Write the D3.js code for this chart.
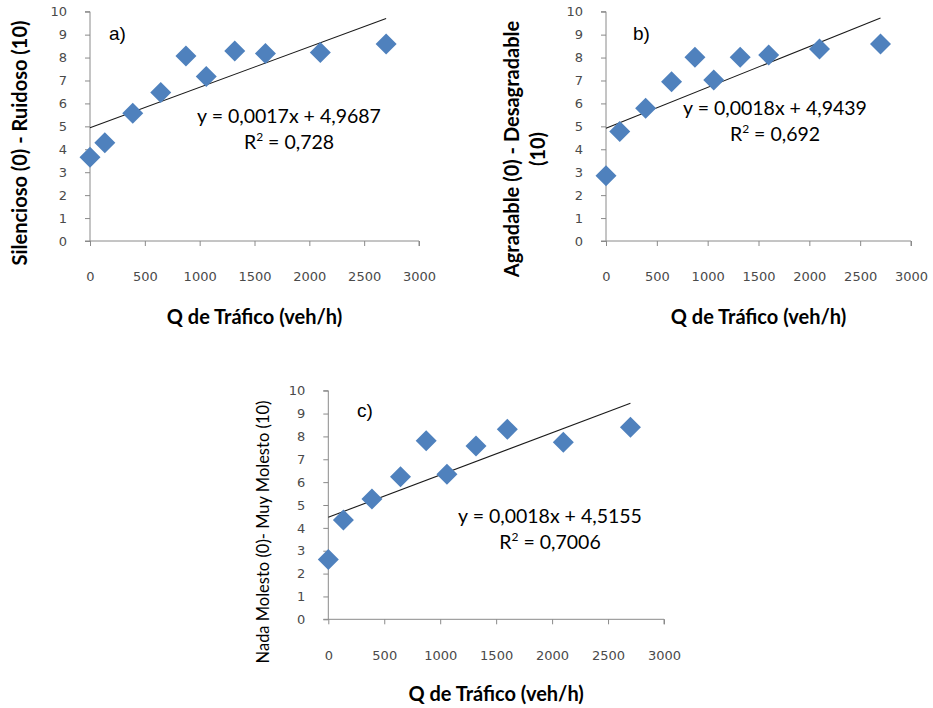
<!DOCTYPE html>
<html>
<head>
<meta charset="utf-8">
<script src="https://cdn.jsdelivr.net/npm/d3@7"></script>
<style>
  html, body { margin: 0; padding: 0; background: #fff; }
  svg { display: block; }
</style>
</head>
<body>
<svg id="chart" width="933" height="708"></svg>
<script>
// ---- data ----
const traffic = [0, 135, 390, 645, 875, 1060, 1320, 1600, 2100, 2700];
const ruidoso = [3.65, 4.29, 5.57, 6.48, 8.07, 7.17, 8.29, 8.18, 8.22, 8.59];
const desagradable = [2.85, 4.77, 5.79, 6.95, 8.01, 7.02, 8.01, 8.11, 8.37, 8.59];
const molesto = [2.62, 4.34, 5.26, 6.24, 7.81, 6.34, 7.58, 8.31, 7.74, 8.40];
const xTicks = [0, 500, 1000, 1500, 2000, 2500, 3000];
const yTicks = [0, 1, 2, 3, 4, 5, 6, 7, 8, 9, 10];
const panelLetters = ["a)", "b)", "c)"];
const yTitles = [
  ["Silencioso (0) - Ruidoso (10)"],
  ["Agradable (0) - Desagradable", "(10)"],
  ["Nada Molesto (0)- Muy Molesto (10)"]
];
const xTitle = "Q de Tráfico (veh/h)";
const equations = ["y = 0,0017x + 4,9687", "y = 0,0018x + 4,9439", "y = 0,0018x + 4,5155"];
const r2Values = ["0,728", "0,692", "0,7006"];

// ---- layout ----
const panels = [
  { values: ruidoso, x0: 90, x1: 419, y0: 241, y1: 11.7, letter: [109, 40], eq: [289, 123], yTitleX: 20, yTitleY: 143, yTitleBold: true, xTitleY: 324, yTitleSize: 20 },
  { values: desagradable, x0: 606, x1: 911, y0: 241, y1: 11.7, letter: [633, 40], eq: [775, 115], yTitleX: 512, yTitleY: 149, yTitleBold: true, xTitleY: 324, yTitleSize: 20 },
  { values: molesto, x0: 328.3, x1: 664, y0: 619.3, y1: 390.7, letter: [357, 417], eq: [550, 523], yTitleX: 262, yTitleY: 532, yTitleBold: false, xTitleY: 701, yTitleSize: 16.5 }
];

const svg = d3.select("#chart");
const axisColor = "#8a8a8a";
const markerColor = "#4F81BD";
const diamond = "M0,-10.5L10.5,0L0,10.5L-10.5,0Z";

function fit(xs, ys) {
  const mx = d3.mean(xs), my = d3.mean(ys);
  let sxy = 0, sxx = 0;
  xs.forEach((x, i) => { sxy += (x - mx) * (ys[i] - my); sxx += (x - mx) * (x - mx); });
  const b = sxy / sxx;
  return { slope: b, intercept: my - b * mx };
}

panels.forEach((p, pi) => {
  const x = d3.scaleLinear().domain([0, 3000]).range([p.x0, p.x1]);
  const y = d3.scaleLinear().domain([0, 10]).range([p.y0, p.y1]);
  const g = svg.append("g");

  // y axis
  const yAxis = g.append("g").attr("transform", `translate(${p.x0},0)`)
    .call(d3.axisLeft(y).tickValues(yTicks).tickSize(5).tickPadding(18).tickFormat(d3.format("d")));
  // x axis
  const xAxis = g.append("g").attr("transform", `translate(0,${p.y0})`)
    .call(d3.axisBottom(x).tickValues(xTicks).tickSize(5).tickPadding(26).tickFormat(d3.format("d")));
  [yAxis, xAxis].forEach(a => {
    a.select(".domain").attr("stroke", axisColor).attr("stroke-width", 1);
    a.selectAll(".tick line").attr("stroke", axisColor);
    a.selectAll(".tick text")
      .attr("fill", "#4a4a4a")
      .style("font-family", "'DejaVu Sans', sans-serif")
      .style("font-size", "13px");
  });
  yAxis.select(".domain").attr("d", `M-5,${p.y1}H0V${p.y0}`);
  xAxis.select(".domain").attr("d", `M${p.x0 - 5},0H${p.x1}V5`);

  // trend line
  const f = fit(traffic, p.values);
  const xmin = d3.min(traffic), xmax = d3.max(traffic);
  g.append("line")
    .attr("x1", x(xmin)).attr("y1", y(f.intercept + f.slope * xmin))
    .attr("x2", x(xmax)).attr("y2", y(f.intercept + f.slope * xmax))
    .attr("stroke", "#1a1a1a").attr("stroke-width", 1.1);

  // markers
  g.selectAll("path.pt").data(traffic).enter().append("path")
    .attr("class", "pt")
    .attr("d", diamond)
    .attr("transform", (d, i) => `translate(${x(d)},${y(p.values[i])})`)
    .attr("fill", markerColor);

  // panel letter
  g.append("text").attr("x", p.letter[0]).attr("y", p.letter[1])
    .style("font-family", "'Liberation Sans', Arial, sans-serif")
    .style("font-size", "19px").attr("fill", "#000").text(panelLetters[pi]);

  // equation
  const eqText = g.append("text").attr("text-anchor", "middle")
    .style("font-family", "Lato, sans-serif").style("font-size", "19.5px").attr("fill", "#000");
  eqText.append("tspan").attr("x", p.eq[0]).attr("y", p.eq[1]).text(equations[pi]);
  const r2 = eqText.append("tspan").attr("x", p.eq[0]).attr("y", p.eq[1] + 26);
  r2.append("tspan").text("R");
  r2.append("tspan").attr("dy", -8).style("font-size", "12px").text("2");
  r2.append("tspan").attr("dy", 8).text(" = " + r2Values[pi]);

  // y title
  const yt = g.append("text").attr("text-anchor", "middle")
    .attr("transform", `translate(${p.yTitleX + 7},${p.yTitleY}) rotate(-90)`)
    .style("font-family", "Lato, sans-serif")
    .style("font-weight", p.yTitleBold ? "bold" : "normal")
    .style("font-size", p.yTitleSize + "px").attr("fill", "#000");
  yTitles[pi].forEach((line, li) => {
    yt.append("tspan").attr("x", 0).attr("y", li * 26).text(line);
  });

  // x title
  g.append("text").attr("text-anchor", "middle")
    .attr("x", (p.x0 + p.x1) / 2).attr("y", p.xTitleY)
    .style("font-family", "Lato, sans-serif").style("font-weight", "bold")
    .style("font-size", "20px").attr("fill", "#000").text(xTitle);
});
</script>
</body>
</html>
